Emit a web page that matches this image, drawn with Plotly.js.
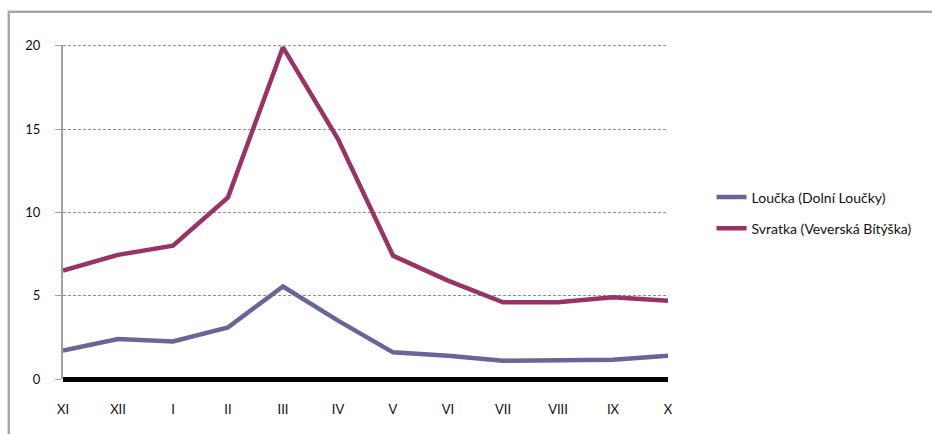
<!DOCTYPE html>
<html>
<head>
<meta charset="utf-8">
<script src="https://cdn.plot.ly/plotly-3.0.1.min.js"></script>
<style>
  html, body { margin: 0; padding: 0; background: #fff; }
  #wrap { position: relative; width: 932px; height: 434px; overflow: hidden; }
  #chart { position: absolute; left: 0; top: 0; width: 932px; height: 434px; }
  #frame { position: absolute; left: 8px; top: 11px; width: 940px; height: 440px;
           border-left: 2px solid #a6a6a6; border-top: 2px solid #a6a6a6;
           box-shadow: -1px -1px 0 #d9d9d9; pointer-events: none; }
</style>
</head>
<body>
<div id="wrap">
  <div id="chart"></div>
  <div id="frame"></div>
</div>
<script>
const months = ["XI", "XII", "I", "II", "III", "IV", "V", "VI", "VII", "VIII", "IX", "X"];
const loucka = [1.7, 2.4, 2.25, 3.1, 5.55, 3.5, 1.6, 1.4, 1.1, 1.15, 1.15, 1.4];
const svratka = [6.5, 7.45, 8.0, 10.9, 19.9, 14.4, 7.4, 5.9, 4.6, 4.6, 4.9, 4.7];
const seriesNames = ["Loučka (Dolní Loučky)", "Svratka (Veverská Bítýška)"];
const yTicks = [0, 5, 10, 15, 20];
const yMax = 20;

const font = "Lato, 'Open Sans', sans-serif";
const gridDash = "3px,2px";

const traces = [
  { x: months, y: loucka, name: seriesNames[0], legendgroup: "a", type: "scatter", mode: "lines",
    line: { color: "#666699", width: 4.5 } },
  { x: months, y: svratka, name: seriesNames[1], legendgroup: "b", type: "scatter", mode: "lines",
    line: { color: "#993366", width: 4.5 } }
];

const layout = {
  width: 932, height: 434,
  margin: { l: 63, r: 264, t: 45, b: 55 },
  paper_bgcolor: "rgba(0,0,0,0)",
  plot_bgcolor: "#fff",
  font: { family: font, size: 13, color: "#111" },
  showlegend: true,
  legend: {
    x: 1.072, y: 0.497, xanchor: "left", yanchor: "middle",
    font: { family: font, size: 14, color: "#111" },
    traceorder: "grouped", tracegroupgap: 10, itemwidth: 30,
    bgcolor: "rgba(0,0,0,0)"
  },
  shapes: [
    { type: "line", xref: "paper", yref: "y", x0: 0, x1: 1, y0: yMax, y1: yMax,
      line: { color: "#8c8c8c", width: 1, dash: gridDash }, layer: "below" }
  ],
  xaxis: {
    type: "category",
    categoryorder: "array", categoryarray: months,
    range: [0, 11],
    showgrid: false, zeroline: false,
    showline: false,
    ticks: "outside", ticklen: 18, tickcolor: "rgba(0,0,0,0)",
    tickfont: { family: font, size: 13, color: "#111" },
    fixedrange: true
  },
  yaxis: {
    range: [0, 20.04],
    tickvals: yTicks,
    ticktext: yTicks.map(String),
    showgrid: true, gridcolor: "#8c8c8c", griddash: gridDash, gridwidth: 1,
    zeroline: true, zerolinecolor: "#000", zerolinewidth: 5,
    showline: true, linecolor: "#a0a0a0", linewidth: 2,
    ticks: "outside", ticklen: 6, tickcolor: "#a0a0a0", tickwidth: 1,
    ticklabelstandoff: 12,
    tickfont: { family: font, size: 13, color: "#111" },
    fixedrange: true
  }
};

Plotly.newPlot("chart", traces, layout, { displayModeBar: false, staticPlot: true });
</script>
</body>
</html>
